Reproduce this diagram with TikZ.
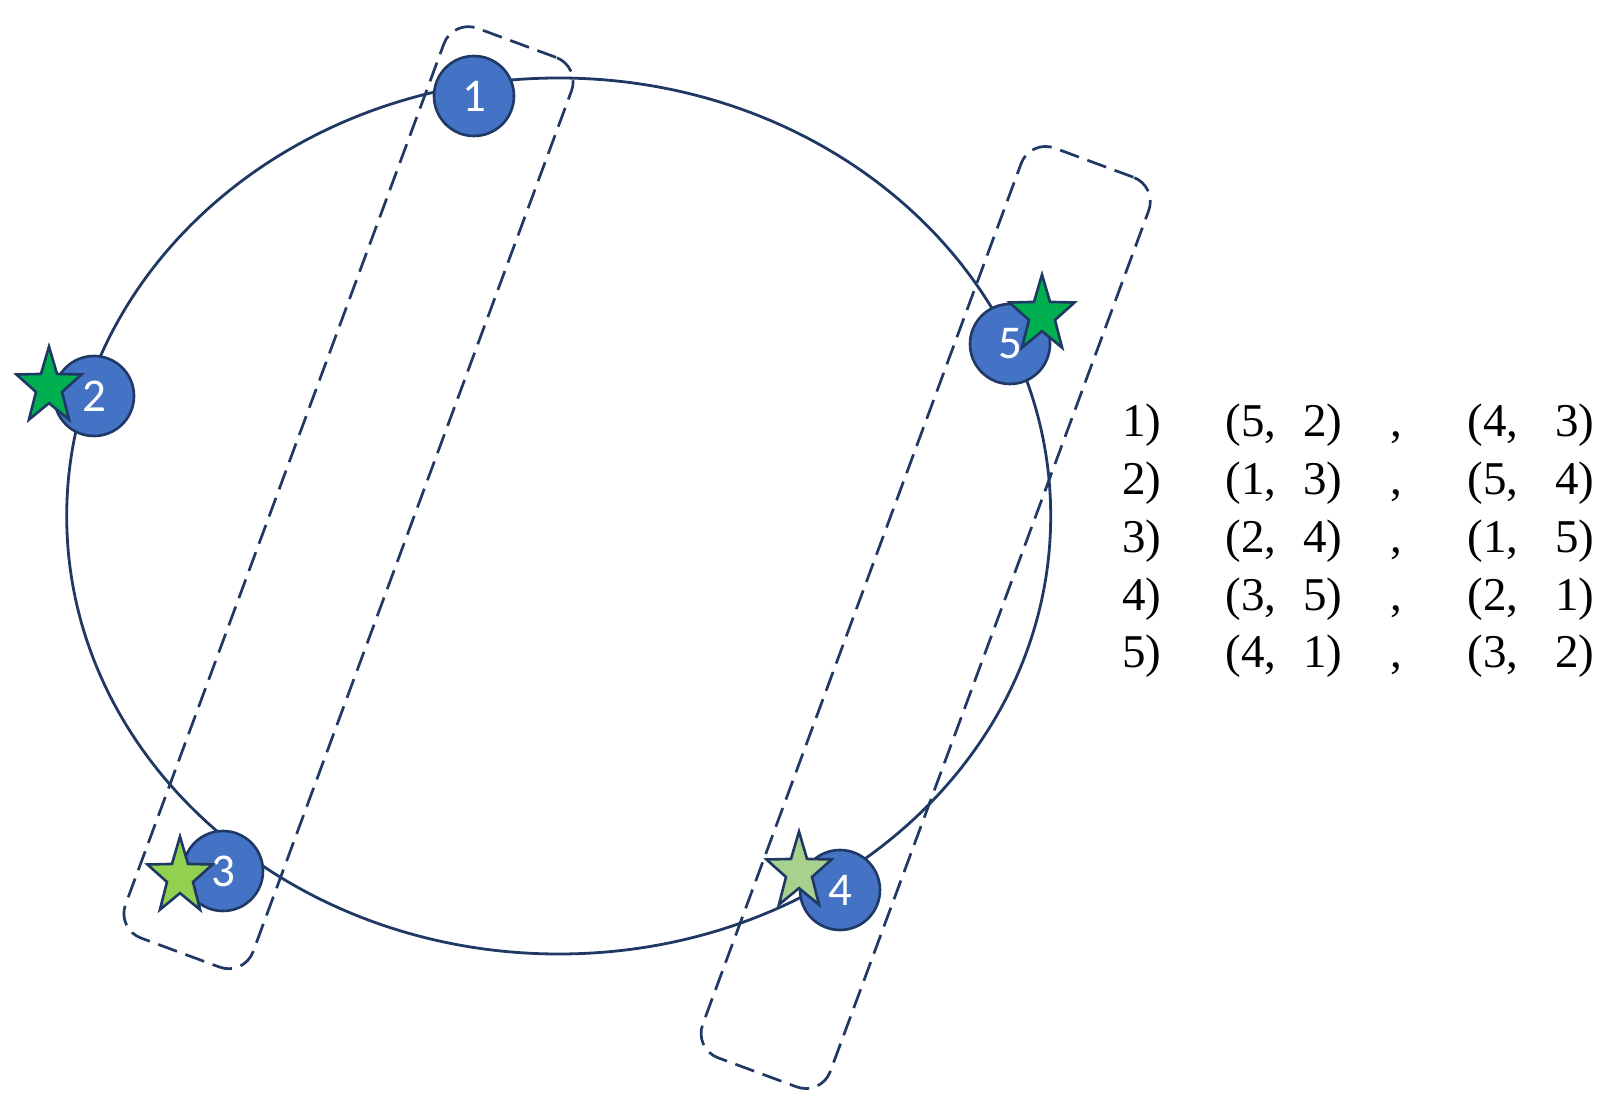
\documentclass[tikz,border=0pt]{standalone}
\usepackage{fontspec}
\setmainfont{Liberation Serif}
\newfontfamily\circfont{Carlito}
\definecolor{navy}{HTML}{1F3864}
\definecolor{nodeblue}{HTML}{4472C4}
\definecolor{stardark}{HTML}{00B050}
\definecolor{starlight}{HTML}{92D050}
\definecolor{starpale}{HTML}{A9D18E}
\newcommand\mystar[3]{%
  \begin{scope}[shift={(#1,#2)}, xscale=34.2, yscale=-40.4]
    \draw[starline, fill=#3] (90:1) -- (126:0.4) -- (162:1) -- (198:0.4) -- (234:1) -- (270:0.4) -- (306:1) -- (342:0.4) -- (18:1) -- (54:0.4) -- cycle;
  \end{scope}}
\begin{document}
\begin{tikzpicture}[x=0.5pt,y=-0.5pt,
  vertex/.style={circle, draw=navy, fill=nodeblue, line width=1.3pt, minimum size=40pt, inner sep=0pt, text=white, font=\circfont\fontsize{23.5}{28}\selectfont},
  pairbox/.style={draw=navy, line width=1.35pt, dash pattern=on 10pt off 4.5pt, rounded corners=13pt, minimum width=68pt, minimum height=485pt, inner sep=0pt, rotate=-20.3},
  ring/.style={draw=navy, line width=1.4pt},
  starline/.style={draw=navy, line width=1.3pt, line join=miter},
  tabtext/.style={anchor=base west, inner sep=0pt, font=\fontsize{23.5}{28}\selectfont}
]
\useasboundingbox (0,0) rectangle (1612,1111);

\draw[ring] (558.7,516) ellipse [x radius=492, y radius=438];

\node[pairbox] (boxA) at (348.5,497.7) {};
\node[pairbox] (boxB) at (925.7,617.5) {};

\node[vertex] (n1) at (474,96) {1};
\node[vertex] (n2) at (94,396) {2};
\node[vertex] (n3) at (223,871) {3};
\node[vertex] (n4) at (840,890) {4};
\node[vertex] (n5) at (1010,344) {5};

\mystar{49}{387}{stardark}
\mystar{1042}{315}{stardark}
\mystar{180}{877}{starlight}
\mystar{799}{872}{starpale}

\node[tabtext] (r1) at (1122,437) {\makebox[51.5pt][l]{1)}\makebox[39pt][l]{(5,}\makebox[43.5pt][l]{2)}\makebox[38.5pt][l]{,}\makebox[44pt][l]{(4,}3)};
\node[tabtext] (r2) at (1122,495) {\makebox[51.5pt][l]{2)}\makebox[39pt][l]{(1,}\makebox[43.5pt][l]{3)}\makebox[38.5pt][l]{,}\makebox[44pt][l]{(5,}4)};
\node[tabtext] (r3) at (1122,553) {\makebox[51.5pt][l]{3)}\makebox[39pt][l]{(2,}\makebox[43.5pt][l]{4)}\makebox[38.5pt][l]{,}\makebox[44pt][l]{(1,}5)};
\node[tabtext] (r4) at (1122,611) {\makebox[51.5pt][l]{4)}\makebox[39pt][l]{(3,}\makebox[43.5pt][l]{5)}\makebox[38.5pt][l]{,}\makebox[44pt][l]{(2,}1)};
\node[tabtext] (r5) at (1122,668) {\makebox[51.5pt][l]{5)}\makebox[39pt][l]{(4,}\makebox[43.5pt][l]{1)}\makebox[38.5pt][l]{,}\makebox[44pt][l]{(3,}2)};
\end{tikzpicture}
\end{document}
